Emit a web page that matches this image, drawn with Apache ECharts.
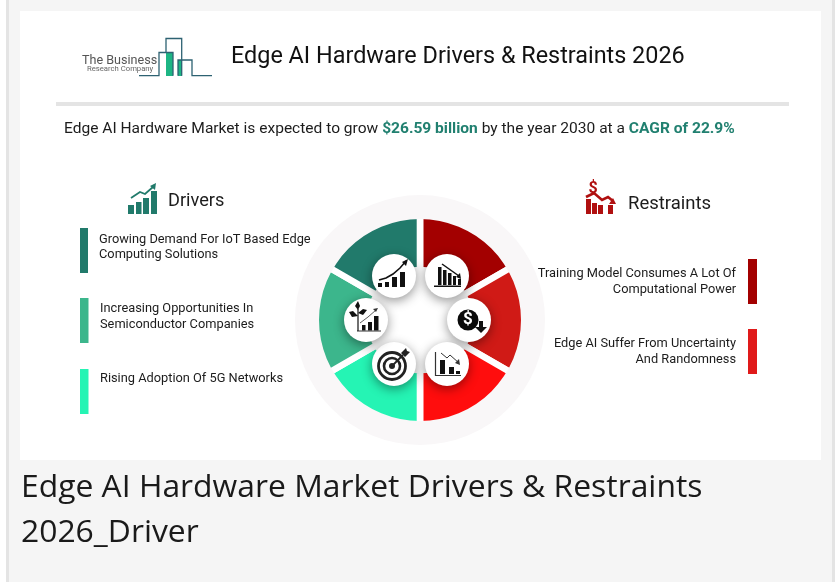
<!DOCTYPE html>
<html><head><meta charset="utf-8">
<style>html,body{margin:0;padding:0;background:#f5f5f5}#c{width:837px;height:582px}</style>
<script src="https://cdn.jsdelivr.net/npm/echarts@6/dist/echarts.min.js"></script>
</head><body><div id="c"></div>
<script>
const segmentNames = ['Restraint 1','Restraint 2','Restraint 3','Driver 3','Driver 2','Driver 1'];
const segmentValues = [1,1,1,1,1,1];
const segmentColors = ['#a30000','#d01a16','#ff0d0d','#25f4b4','#3cb68c','#217a6b'];
const drivers = ['Growing Demand For IoT Based Edge\nComputing Solutions','Increasing Opportunities In\nSemiconductor Companies','Rising Adoption Of 5G Networks'];
const restraints = ['Training Model Consumes A Lot Of\nComputational Power','Edge AI Suffer From Uncertainty\nAnd Randomness'];
const F='Roboto';
const ink='#1c1c1c';
function t(x,y,text,size,extra){return {type:'text',x,y,z:20,style:Object.assign({text,font:size+'px '+F,fill:ink,lineHeight:16,textVerticalAlign:'top'},extra||{})};}
function r(x,y,w,h,fill,z){return {type:'rect',x,y,z:z==null?1:z,shape:{width:w,height:h},style:{fill}};}
function stroke(points,color,w){return {type:'polyline',z:30,shape:{points},style:{stroke:color,lineWidth:w,fill:null,lineJoin:'miter'}};}
function poly(points,color){return {type:'polygon',z:30,shape:{points},style:{fill:color}};}
function circ(cx,cy,rad,fill,z,extra){return {type:'circle',z:z,shape:{cx,cy,r:rad},style:Object.assign({fill},extra||{})};}
const K='#111';
const cx=420,cy=320;
function bars(list,color){return list.map(b=>r(b[0],b[1],b[2],b[3],color,30));}
const icons=[
 ...[[447,276],[469,320],[447,364],[394,364],[366,320],[394,276]].map(p=>circ(p[0],p[1],22,'#fff',15,{shadowBlur:11,shadowColor:'rgba(0,0,0,.42)',shadowOffsetY:3})),
 // top-left: growth
 ...bars([[378,283,4,4],[385,282,4,5],[392,277,5,10],[400,272,5,15]],K),
 stroke([[379,280],[386,278],[393,274],[400,268],[406,261]],K,1.6), poly([[402,262],[408,259],[406,266]],K),
 // top-right: falling bars
 ...bars([[438,267,3.5,18],[443,270,3.5,15],[448,273,3.5,12],[453,276,3,9],[458,279,3,6]],K),
 r(434,285.5,27,1.5,K,30), stroke([[442,264],[459,276]],K,1.5), poly([[461,279],[456,277],[460,273]],K),
 // right: dollar
 circ(468,320,10.5,'#0a0a0a',30),
 {type:'text',x:468,y:320,z:31,style:{text:'$',font:'bold 17px Roboto',fill:'#fff',textAlign:'center',textVerticalAlign:'middle'}},
 r(479,321,4,7,K,32), poly([[475,327],[487,327],[481,333]],K),
 // bottom-right: chart down
 stroke([[435.5,352],[435.5,375.5],[461,375.5]],'#333',1.2),
 ...bars([[440,360,5,14],[449,367,5,7],[456,371,4,3]],K),
 stroke([[441,353],[447,358],[450,355],[459,363]],'#333',1),poly([[460,365],[455,363],[459,359]],'#333'),
 // bottom-left: target
 circ(392,366,13.5,'none',30,{stroke:'#222',lineWidth:2.8}),
 circ(392,366,8,'none',30,{stroke:'#222',lineWidth:2.6}),
 circ(392,366,3,'#222',30),
 stroke([[392,366],[403,355]],'#222',1.8),poly([[401,353],[406,348],[407,351],[410,352],[405,357]],'#222'),
 // left: plant + chart
 stroke([[357,331],[381,331]],'#333',1),
 stroke([[358,331],[358,309]],K,1.2),
 ...bars([[362,325,3.5,5.5],[368,322,4,8.5],[374,316,4.5,14.5]],K),
 stroke([[360,323],[368,317],[376,310]],'#333',.8),poly([[378,308],[373,309],[376,312]],'#333'),
 poly([[358,316],[353,311],[349,312],[352,317]],K),poly([[358,313],[363,309],[367,310],[363,315]],K),poly([[358,310],[355,306],[358,301],[360,306]],K),
];
const logoLine='#2d6272';
const logo=[
 r(166,52,7,24,'#1db584',6), r(178,60,4,16,'#1db584',6),
 {type:'polyline',z:7,shape:{points:[[139,75.7],[159,75.7],[159,52.5],[173,52.5],[173,75.7]]},style:{stroke:logoLine,lineWidth:1.3,fill:null}},
 {type:'polyline',z:7,shape:{points:[[166,52.5],[166,38.5],[181.7,38.5],[181.7,75.7]]},style:{stroke:logoLine,lineWidth:1.3,fill:null}},
 {type:'polyline',z:7,shape:{points:[[178,75.7],[178,60],[192,60],[192,75.7],[212,75.7]]},style:{stroke:logoLine,lineWidth:1.3,fill:null}},
 t(82,52.7,'The Business',12.6,{fill:'#555'}),
 t(87,61.5,'Research Company',7.7,{fill:'#666'}),
];
const G='#217a6b';
const driverIcon=[...bars([[128,205,6,9],[136,202,5.5,12],[143,198,6,16],[151,191,6,23]],G),stroke([[131,198],[140,192],[145,194],[153,187]],G,1.8),poly([[150,186],[156,183],[155,190]],G)];
const red='#b01010';
const restraintIcon=[...bars([[586,199,5,15],[592,203,5,11],[598,205,5,9],[608,205,5,9]],red),stroke([[586,197],[594,193],[602,200],[608,197],[613,201]],red,2.6),poly([[609,204],[616,204],[613,198]],red),
 {type:'text',x:593,y:189,z:30,style:{text:'$',font:'bold 16px Roboto',fill:red,textAlign:'center',textVerticalAlign:'middle'}}];
const graphics=[
 r(0,0,837,582,'#f5f5f5',-3), r(0,0,6,582,'#fff',-2), r(6,0,3,582,'#e4e4e4',-2),
 r(832,0,3,582,'#e4e4e4',-2), r(835,0,2,582,'#fff',-2),
 r(20,11,801,449,'#fff',-1),
 r(56,102,733,4,'#e4e4e4',1),
 {type:'ring',z:9,shape:{cx,cy,r:125,r0:101},style:{fill:'#f9f7f8'}},
 ...logo,
 t(231,43.5,'Edge AI Hardware Drivers & Restraints 2026',23.4,{lineHeight:28,fill:'#111'}),
 {type:'text',x:64,y:121,z:20,style:{rich:{a:{font:'15.55px '+F,fill:ink},b:{font:'bold 15.55px '+F,fill:'#218070'}},text:'{a|Edge AI Hardware Market is expected to grow }{b|$26.59 billion}{a| by the year 2030 at a }{b|CAGR of 22.9%}',textVerticalAlign:'top'}},
 t(168,190,'Drivers',18.2,{lineHeight:22}), t(628,193,'Restraints',18.5,{lineHeight:22}),
 ...driverIcon,...restraintIcon,
 r(80,228,8,45,'#217a6b'),r(80,298,8.5,45,'#3cb68c'),r(80,369,8.5,45,'#25f4b4'),
 r(748,259,9,45,'#a30000'),r(748,329,9,45,'#e01a1a'),
 t(99,232.5,drivers[0],12.8,{lineHeight:15}), t(100,300.5,drivers[1],12.8), t(100,371,drivers[2],12.8),
 t(736,265.5,restraints[0],12.8,{textAlign:'right'}), t(736,335.5,restraints[1],12.8,{textAlign:'right'}),
 t(21,465,'Edge AI Hardware Market Drivers & Restraints\n2026_Driver',31.85,{font:'31.85px "Open Sans"',fill:'#1a1a1a',lineHeight:45}),
 ...icons
];
const chart=echarts.init(document.getElementById('c'),null,{renderer:'canvas'});
chart.setOption({
 animation:false,
 backgroundColor:'#f5f5f5',
 graphic:{elements:graphics},
 series:[{type:'pie',z:8,center:[cx,cy],radius:[50,108],startAngle:90,clockwise:true,silent:true,label:{show:false},labelLine:{show:false},
  data:segmentNames.map((n,i)=>({name:n,value:segmentValues[i],itemStyle:{color:segmentColors[i],borderColor:'#fff',borderWidth:6.6}}))}]
});
</script></body></html>
